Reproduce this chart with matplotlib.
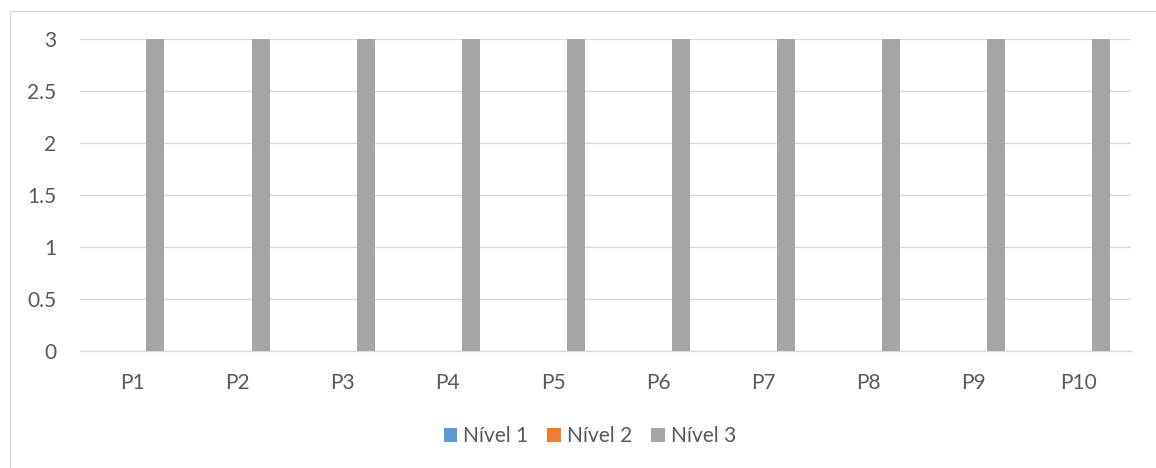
import matplotlib
matplotlib.use("Agg")
import matplotlib.pyplot as plt
from matplotlib.patches import Rectangle
import numpy as np

categories = ["P1", "P2", "P3", "P4", "P5", "P6", "P7", "P8", "P9", "P10"]
series_names = ["Nível 1", "Nível 2", "Nível 3"]
nivel1 = [0, 0, 0, 0, 0, 0, 0, 0, 0, 0]
nivel2 = [0, 0, 0, 0, 0, 0, 0, 0, 0, 0]
nivel3 = [3, 3, 3, 3, 3, 3, 3, 3, 3, 3]
yticks = [0, 0.5, 1, 1.5, 2, 2.5, 3]
ytick_labels = ["0", "0.5", "1", "1.5", "2", "2.5", "3"]
colors = ["#5B9BD5", "#ED7D31", "#A5A5A5"]

plt.rcParams['font.family'] = ['Lato', 'DejaVu Sans']
W, H = 1156, 468
fig = plt.figure(figsize=(W / 100, H / 100), dpi=100)

# chart border
fig.patches.append(Rectangle((9.5 / W, -0.1), 2, 1 - 10.5 / H + 0.1, transform=fig.transFigure,
                             fill=False, edgecolor="#D9D9D9", linewidth=1.0, zorder=0))

ax = fig.add_axes([80 / W, 1 - 351 / H, (1131 - 80) / W, (351 - 39) / H])
x = np.arange(len(categories))
w = 0.171
off = 0.218
for i, (vals, name) in enumerate(zip([nivel1, nivel2, nivel3], series_names)):
    ax.bar(x + (i - 1) * off, vals, width=w, color=colors[i], label=name, zorder=3)

ax.set_xlim(-0.5, len(categories) - 0.5)
ax.set_ylim(0, 3)
ax.set_yticks(yticks)
ax.set_yticklabels(ytick_labels)
ax.set_xticks(x)
ax.set_xticklabels(categories)
ax.grid(axis='y', color="#D9D9D9", linewidth=1.0, zorder=0)
ax.set_axisbelow(True)
for s in ["top", "right", "left"]:
    ax.spines[s].set_visible(False)
ax.spines["bottom"].set_color("#D9D9D9")
ax.spines["bottom"].set_linewidth(1.0)
ax.tick_params(axis='both', length=0, colors="#595959", labelsize=15)
ax.tick_params(axis='y', pad=17)
ax.tick_params(axis='x', pad=16)

leg = fig.legend(loc="center", bbox_to_anchor=(590 / W, 1 - 436 / H), ncol=3, frameon=False,
                 fontsize=15, handlelength=0.65, handleheight=0.65, handletextpad=0.3,
                 columnspacing=0.9, labelcolor="#595959")

fig.savefig("out.png", dpi=100)
